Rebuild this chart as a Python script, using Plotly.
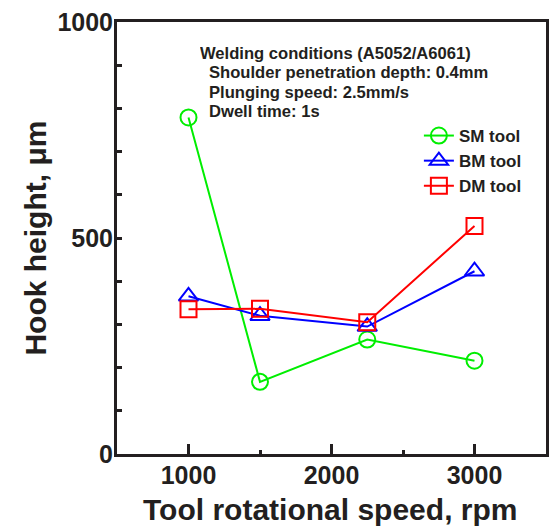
import plotly.graph_objects as go

rpm = [1000, 1500, 2250, 3000]
sm_tool = [779, 167, 265, 216]
bm_tool = [365, 320, 295, 423]
dm_tool = [335, 336, 305, 528]

series_names = ["SM tool", "BM tool", "DM tool"]
x_ticks = [1000, 2000, 3000]
y_ticks = [0, 500, 1000]

conditions = [
    "Welding conditions (A5052/A6061)",
    "Shoulder penetration depth: 0.4mm",
    "Plunging speed: 2.5mm/s",
    "Dwell time: 1s",
]

FONT = "Liberation Sans, Arial, Helvetica, sans-serif"
INK = "#231f20"

W, H = 550, 526
L, R, T, B = 117, 1, 22, 72
PW, PH = W - L - R, H - T - B


def px_x(px):
    return (px - L) / PW


def px_y(py):
    return (H - B - py) / PH


fig = go.Figure()
styles = [
    ("#00ee00", "circle-open", 16, sm_tool),
    ("#0000ff", "triangle-up-open", 17, bm_tool),
    ("#ff0000", "square-open", 16, dm_tool),
]
for name, (col, sym, size, vals) in zip(series_names, styles):
    fig.add_trace(go.Scatter(
        x=rpm, y=vals, name=name, mode="lines+markers",
        line=dict(color=col, width=2),
        marker=dict(symbol=sym, size=size, color=col, line=dict(color=col, width=2)),
    ))

anns = []
cond_y = [53.5, 72.8, 92.1, 111.4]
cond_x = [199, 208, 208, 208]
for txt, cx, cy in zip(conditions, cond_x, cond_y):
    anns.append(dict(
        text=txt, xref="paper", yref="paper", x=px_x(cx), y=px_y(cy),
        xanchor="left", yanchor="middle", showarrow=False, height=17,
        font=dict(family=FONT, size=16.6, color=INK, weight="bold"),
    ))

anns.append(dict(
    text="Hook height, \u03bcm", xref="paper", yref="paper",
    x=px_x(34), y=px_y(238), xanchor="center", yanchor="middle",
    textangle=-90, showarrow=False,
    font=dict(family=FONT, size=30, color=INK, weight="bold"),
))
anns.append(dict(
    text="Tool rotational speed, rpm", xref="paper", yref="paper",
    x=px_x(331.5), y=px_y(509), xanchor="center", yanchor="middle",
    showarrow=False,
    font=dict(family=FONT, size=30, color=INK, weight="bold"),
))

fig.update_layout(
    width=W, height=H,
    margin=dict(l=L, r=R, t=T, b=B, pad=0),
    paper_bgcolor="white", plot_bgcolor="white",
    showlegend=True,
    legend=dict(
        x=px_x(421), y=px_y(118), xanchor="left", yanchor="top",
        bgcolor="rgba(0,0,0,0)", borderwidth=0,
        font=dict(family=FONT, size=17, color=INK, weight="bold"),
        tracegroupgap=0,
    ),
    annotations=anns,
)

fig.update_xaxes(
    range=[500, 3500], showgrid=False, zeroline=False,
    showline=True, linewidth=3, linecolor=INK, mirror=True,
    tickmode="array", tickvals=x_ticks, ticks="inside", ticklen=10,
    tickwidth=2.5, tickcolor=INK, ticklabelstandoff=-3,
    tickfont=dict(family=FONT, size=25, color=INK, weight="bold"),
    minor=dict(tickvals=[1500, 2500], ticks="inside", ticklen=4,
               tickwidth=2.5, tickcolor=INK, showgrid=False),
)
fig.update_yaxes(
    range=[0, 1000], showgrid=False, zeroline=False,
    showline=True, linewidth=3, linecolor=INK, mirror=True,
    tickmode="array", tickvals=y_ticks, ticks="inside", ticklen=5,
    tickwidth=2.5, tickcolor=INK, ticklabelstandoff=-4,
    tickfont=dict(family=FONT, size=25, color=INK, weight="bold"),
    minor=dict(dtick=100, tick0=0, ticks="inside", ticklen=5,
               tickwidth=2.5, tickcolor=INK, showgrid=False),
)

# remove the default page margin so the figure sits at the window's corner
fig.write_html(
    "out.html",
    config={"displayModeBar": False},
    post_script="document.body.style.margin='0';document.body.style.overflow='hidden';",
)
